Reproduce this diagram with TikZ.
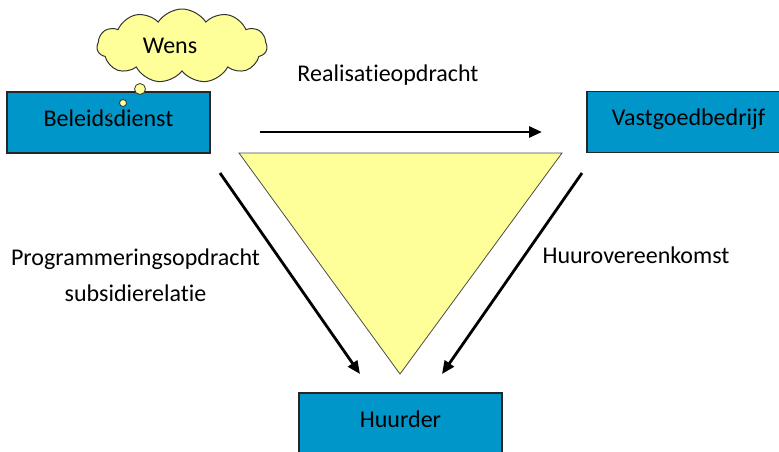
\documentclass[tikz,border=0pt]{standalone}
\usepackage{fontspec}
\setmainfont{Carlito}[Ligatures=NoCommon]
\usepackage{xcolor}
\usetikzlibrary{arrows.meta,shapes.symbols}
\definecolor{azul}{RGB}{0,150,201}
\definecolor{amarillo}{RGB}{255,255,153}

\begin{document}
\begin{tikzpicture}[x=1pt,y=-1pt,
		caja/.style={draw=black!85,line width=1.4pt,fill=azul,minimum width=203pt,minimum height=61pt,inner sep=0pt,text height=17pt,text depth=10pt,font=\fontsize{24}{28}\selectfont},
		flecha/.style={line width=2.8pt,-{Triangle[length=13pt,width=11pt]}},
		etiqueta/.style={font=\fontsize{24}{36}\selectfont,align=center},
		burbuja/.style={circle,draw=black!80,line width=0.8pt,fill=amarillo,inner sep=0pt}]
		% marco del dibujo
		\useasboundingbox (0,0) rectangle (779,451);
		
		% triángulo central
		\coordinate (t1) at (239,153);
		\coordinate (t2) at (562,153);
		\coordinate (t3) at (400,374);
		\draw[fill=amarillo,draw=black!70,line width=0.8pt] (t1) -- (t2) -- (t3) -- cycle;
		
		% las tres cajas
		\node[caja] (beleid) at (108.5,122.5) {Beleidsdienst};
		\node[caja] (vastgoed) at (688.5,122) {Vastgoedbedrijf};
		\node[caja] (huurder) at (400.5,423.5) {Huurder};
		
		% nube con burbujas
		\node[cloud,cloud puffs=11,cloud puff arc=115,aspect=2.4,draw=black!80,line width=1pt,fill=amarillo,minimum width=170pt,minimum height=74pt] (wolk) at (182,46) {};
		\node[font=\fontsize{24}{28}\selectfont] (wens) at (170,46) {Wens};
		\node[burbuja,minimum size=11pt] (b1) at (140,89) {};
		\node[burbuja,minimum size=7pt] (b2) at (123,103) {};
		\node[burbuja,minimum size=3pt] (b3) at (110,115) {};
		
		% flechas
		\coordinate (r1) at (260,132);
		\coordinate (r2) at (542,132);
		\coordinate (p1) at (220,173);
		\coordinate (p2) at (360,374);
		\coordinate (h1) at (582,173);
		\coordinate (h2) at (442,374);
		\draw[flecha] (r1) -- (r2);
		\draw[flecha] (p1) -- (p2);
		\draw[flecha] (h1) -- (h2);
		
		% textos
		\node[etiqueta] (real) at (388,75) {Realisatieopdracht};
		\node[etiqueta] (prog) at (135.5,275) {Programmeringsopdracht\\subsidierelatie};
		\node[etiqueta] (huur) at (636,255) {Huurovereenkomst};
	\end{tikzpicture}
\end{document}
